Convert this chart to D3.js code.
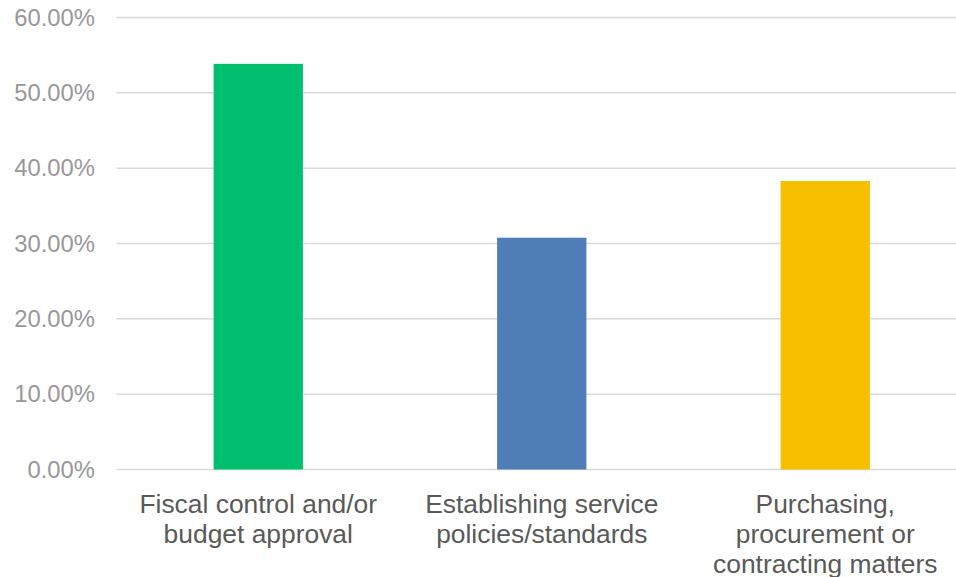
<!DOCTYPE html>
<html>
<head>
<meta charset="utf-8">
<script src="https://cdn.jsdelivr.net/npm/d3@7"></script>
<style>
  html, body { margin: 0; padding: 0; background: #ffffff; }
  svg { display: block; }
  text { font-family: "Liberation Sans", Arial, sans-serif; }
</style>
</head>
<body>
<svg id="chart" width="956" height="577"></svg>
<script>
const categories = [
  ["Fiscal control and/or", "budget approval"],
  ["Establishing service", "policies/standards"],
  ["Purchasing,", "procurement or", "contracting matters"]
];
const values = [0.5385, 0.3077, 0.3830];
const colors = ["#00bf6f", "#4f7db5", "#f8be00"];
const yTicks = [0, 0.1, 0.2, 0.3, 0.4, 0.5, 0.6];

const svg = d3.select("#chart");
const plotLeft = 116.5, plotRight = 967, plotTop = 17.5, plotBottom = 469.5;

const x = d3.scaleBand()
  .domain(d3.range(categories.length))
  .range([plotLeft, plotRight])
  .paddingInner(0.685)
  .paddingOuter(0.3425);

const y = d3.scaleLinear().domain([0, 0.6]).range([plotBottom, plotTop]);

// gridlines
svg.append("g").selectAll("line")
  .data(yTicks)
  .join("line")
  .attr("x1", plotLeft).attr("x2", 956)
  .attr("y1", d => y(d)).attr("y2", d => y(d))
  .attr("stroke", "#d9d9d9")
  .attr("stroke-width", 1.5);

// y tick labels
svg.append("g").selectAll("text")
  .data(yTicks)
  .join("text")
  .attr("x", 95)
  .attr("y", d => y(d) + 8)
  .attr("text-anchor", "end")
  .attr("font-size", 23.8)
  .attr("fill", "#989898")
  .text(d => d3.format(".2%")(d));

// bars
svg.append("g").selectAll("rect")
  .data(values)
  .join("rect")
  .attr("x", (d, i) => x(i))
  .attr("width", x.bandwidth())
  .attr("y", d => y(d))
  .attr("height", d => y(0) - y(d))
  .attr("fill", (d, i) => colors[i]);

// category labels
const lab = svg.append("g").selectAll("text")
  .data(categories)
  .join("text")
  .attr("text-anchor", "middle")
  .attr("font-size", 26.4)
  .attr("fill", "#595959")
  .attr("transform", (d, i) => `translate(${x(i) + x.bandwidth() / 2},513)`);
lab.selectAll("tspan")
  .data(d => d)
  .join("tspan")
  .attr("x", 0)
  .attr("y", (d, j) => j * 30)
  .text(d => d);
</script>
</body>
</html>
